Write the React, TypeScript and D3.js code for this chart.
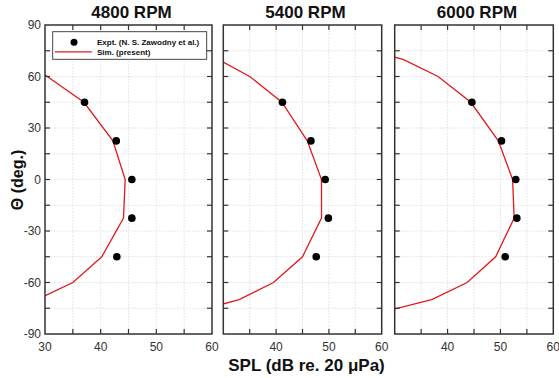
import React from "react";
import * as d3 from "d3";

// Sound pressure level directivity at three rotor speeds
const titles = ["4800 RPM", "5400 RPM", "6000 RPM"];

// Measured directivity angles (deg) and SPL (dB)
const exptAngles = [45, 22.5, 0, -22.5, -45];
const expt4800 = [37.1, 42.8, 45.6, 45.6, 42.9];
const expt5400 = [41.2, 46.6, 49.3, 49.9, 47.6];
const expt6000 = [44.6, 50.2, 52.9, 53.1, 50.9];

// Simulated directivity
const simAngles = [80, 70, 60, 45, 22.5, 0, -22.5, -45, -60, -70, -80];
const sim4800 = [22, 26, 30.4, 37.0, 42.2, 44.4, 44.1, 40.2, 35.0, 28.5, 22];
const sim5400 = [24, 29.0, 35.0, 41.1, 45.9, 48.6, 48.6, 45.0, 39.5, 33.0, 21];
const sim6000 = [19, 31.6, 38.2, 44.4, 49.6, 52.3, 52.6, 49.1, 43.7, 37.0, 24];

const splTicks = [30, 35, 40, 45, 50, 55, 60];
const splLabelsFirst = [30, 40, 50, 60];
const splLabelsRest = [40, 50, 60];
const angleTicks = [90, 75, 60, 45, 30, 15, 0, -15, -30, -45, -60, -75, -90];
const angleLabels = [90, 60, 30, 0, -30, -60, -90];

const legendLabels = ["Expt. (N. S. Zawodny et al.)", "Sim. (present)"];

const W = 559;
const H = 378;
const top = 25;
const bottom = 334;
const panelX: [number, number][] = [
  [45, 212],
  [223.3, 381.7],
  [394.7, 553.3],
];

const exptSeries = [expt4800, expt5400, expt6000];
const simSeries = [sim4800, sim5400, sim6000];

const FONT = "'Liberation Sans', Arial, sans-serif";
const AXIS = "#333";
const RED = "#e3191c";

function Panel({ idx }: { idx: number }) {
  const [x0, x1] = panelX[idx];
  const x = d3.scaleLinear().domain([30, 60]).range([x0, x1]);
  const y = d3.scaleLinear().domain([-90, 90]).range([bottom, top]);
  const line = d3
    .line<[number, number]>()
    .x((d) => x(d[0]))
    .y((d) => y(d[1]));
  const simPts: [number, number][] = simAngles.map((a, i) => [simSeries[idx][i], a]);
  const clipId = `clip-${idx}`;
  const tl = 5;
  const xLabels = idx === 0 ? splLabelsFirst : splLabelsRest;
  return (
    <g>
      <defs>
        <clipPath id={clipId}>
          <rect x={x0} y={top} width={x1 - x0} height={bottom - top} />
        </clipPath>
      </defs>
      {/* grid */}
      {splTicks.slice(1, -1).map((t) => (
        <line key={"gx" + t} x1={x(t)} x2={x(t)} y1={top} y2={bottom}
          stroke="#d8d8d8" strokeWidth={0.8} strokeDasharray="1.5,1.5" />
      ))}
      {angleTicks.slice(1, -1).map((t) => (
        <line key={"gy" + t} x1={x0} x2={x1} y1={y(t)} y2={y(t)}
          stroke="#d8d8d8" strokeWidth={0.8} strokeDasharray="1.5,1.5" />
      ))}
      {/* simulation */}
      <path d={line(simPts) || ""} fill="none" stroke={RED} strokeWidth={1.3}
        clipPath={`url(#${clipId})`} />
      {/* experiment */}
      {exptAngles.map((a, i) => (
        <circle key={"e" + i} cx={x(exptSeries[idx][i])} cy={y(a)} r={3.8} fill="#000" />
      ))}
      {/* ticks */}
      {splTicks.slice(1, -1).map((t) => (
        <g key={"tx" + t}>
          <line x1={x(t)} x2={x(t)} y1={bottom} y2={bottom - tl} stroke={AXIS} strokeWidth={1.2} />
          <line x1={x(t)} x2={x(t)} y1={top} y2={top + tl} stroke={AXIS} strokeWidth={1.2} />
        </g>
      ))}
      {angleTicks.slice(1, -1).map((t) => (
        <g key={"ty" + t}>
          <line x1={x0} x2={x0 + tl} y1={y(t)} y2={y(t)} stroke={AXIS} strokeWidth={1.2} />
          <line x1={x1} x2={x1 - tl} y1={y(t)} y2={y(t)} stroke={AXIS} strokeWidth={1.2} />
        </g>
      ))}
      <rect x={x0} y={top} width={x1 - x0} height={bottom - top} fill="none"
        stroke={AXIS} strokeWidth={1.5} />
      {/* x tick labels */}
      {xLabels.map((t) => (
        <text key={"lx" + t} x={x(t)} y={351} textAnchor="middle" fontSize={12}
          fill="#333" fontFamily={FONT}>{t}</text>
      ))}
      {idx === 0 &&
        angleLabels.map((t) => (
          <text key={"ly" + t} x={41} y={y(t) + 4.2} textAnchor="end" fontSize={12}
            fill="#333" fontFamily={FONT}>{t}</text>
        ))}
      <text x={(x0 + x1) / 2 + 3} y={18} textAnchor="middle" fontSize={17}
        fontWeight="bold" fontFamily={FONT} fill="#111">{titles[idx]}</text>
    </g>
  );
}

function Legend() {
  return (
    <g fontFamily={FONT}>
      <rect x={52.7} y={31.7} width={154} height={27.6} fill="#fff" stroke="#333" strokeWidth={0.9} />
      <circle cx={74} cy={42.3} r={3.5} fill="#000" />
      <text x={97} y={45} fontSize={8} fontWeight="bold" fill="#111">{legendLabels[0]}</text>
      <line x1={55} x2={91.7} y1={51.9} y2={51.9} stroke={RED} strokeWidth={1.2} />
      <text x={97} y={54.5} fontSize={8} fontWeight="bold" fill="#111">{legendLabels[1]}</text>
    </g>
  );
}

export default function App() {
  return (
    <svg width={W} height={H} style={{ position: "absolute", left: 0, top: 0, background: "#fff" }}>
      <rect width={W} height={H} fill="#fff" />
      {[0, 1, 2].map((i) => (
        <Panel key={i} idx={i} />
      ))}
      <Legend />
      <text x={306.5} y={371} textAnchor="middle" fontSize={17} fontWeight="bold"
        fontFamily={FONT} fill="#111">SPL (dB re. 20 μPa)</text>
      <text transform="translate(23,180) rotate(-90)" textAnchor="middle" fontSize={16}
        fontWeight="bold" fontFamily={FONT} fill="#111">Θ (deg.)</text>
    </svg>
  );
}
